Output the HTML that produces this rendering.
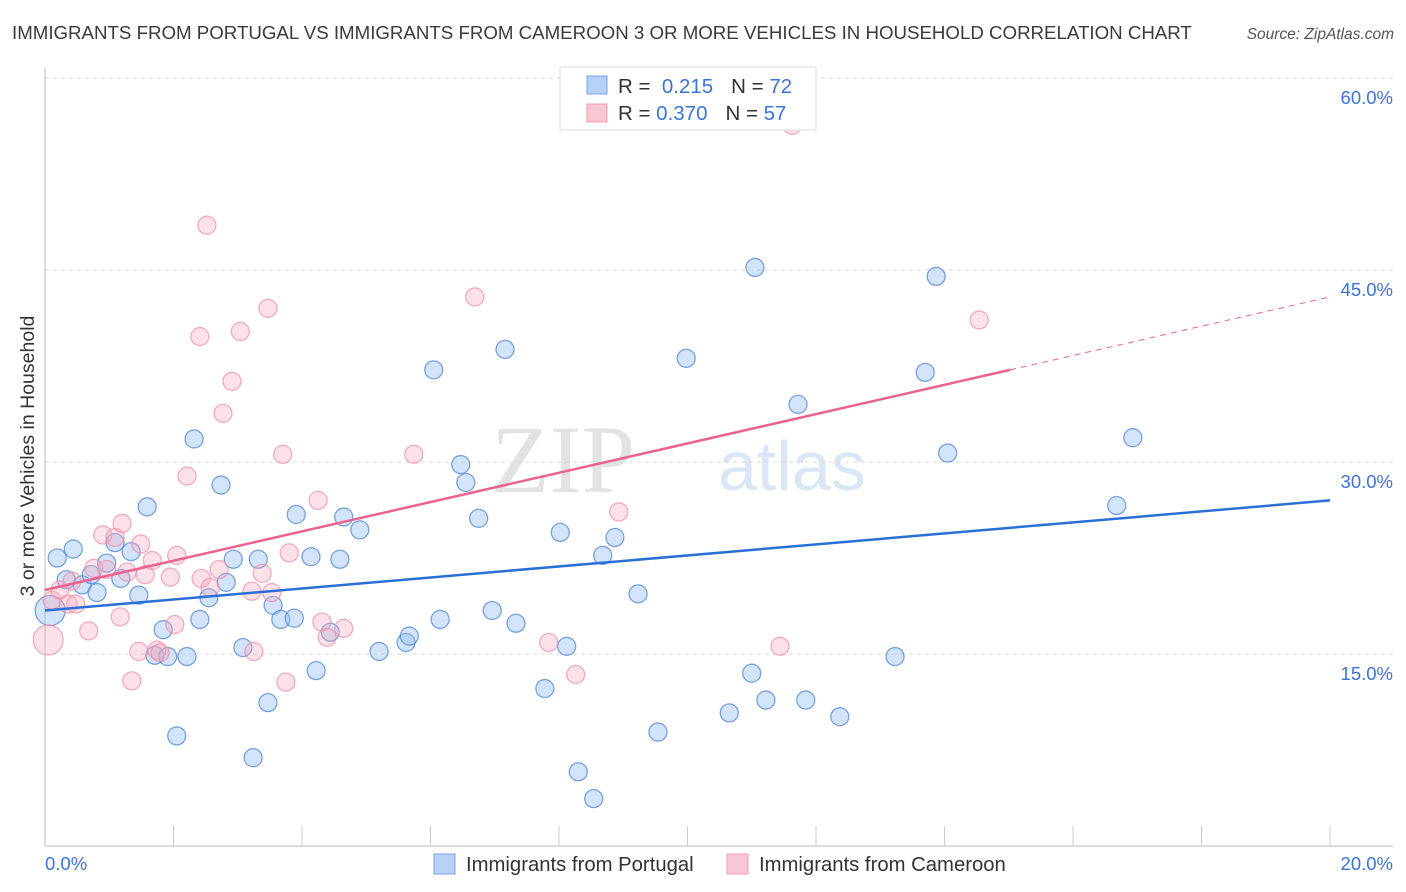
<!DOCTYPE html>
<html><head><meta charset="utf-8">
<style>
body{margin:0;background:#fff;font-family:"Liberation Sans",sans-serif;}
#wrap{position:relative;width:1406px;height:892px;overflow:hidden;}
</style></head><body>
<div id="wrap">
<svg id="svg" width="1406" height="892" xmlns="http://www.w3.org/2000/svg">
<text x="12" y="39" font-size="18.7" fill="#3a3a3a">IMMIGRANTS FROM PORTUGAL VS IMMIGRANTS FROM CAMEROON 3 OR MORE VEHICLES IN HOUSEHOLD CORRELATION CHART</text>
<text x="1394" y="39" font-size="15.5" fill="#555" font-style="italic" text-anchor="end">Source: ZipAtlas.com</text>
<text x="0" y="0" font-size="19.5" fill="#333" text-anchor="middle" transform="translate(34,456) rotate(-90)">3 or more Vehicles in Household</text>
<text x="635" y="492" font-size="96" fill="#e2e2e2" font-family="Liberation Serif,serif" text-anchor="end">ZIP</text>
<text x="718" y="490" font-size="70" fill="#dbe6f5">atlas</text>
<g id="grid"></g>
<g id="axes"></g>
<g id="pts"></g>
<g id="trend"></g>
<g>
<rect x="560" y="67" width="256" height="63" fill="#fff" stroke="#ddd"/>
<rect x="587" y="76" width="20" height="18" fill="#b7d0f5" stroke="#7aa3e3"/>
<rect x="587" y="104" width="20" height="18" fill="#f9c6d4" stroke="#ee9fb6"/>
<text x="618" y="93" font-size="20.5" fill="#333">R = <tspan fill="#3a74d6">&#160;0.215</tspan><tspan dx="18">N = </tspan><tspan fill="#3a74d6">72</tspan></text>
<text x="618" y="120" font-size="20.5" fill="#333">R = <tspan fill="#3a74d6">0.370</tspan><tspan dx="18">N = </tspan><tspan fill="#3a74d6">57</tspan></text>
</g>
<g>
<rect x="434" y="854" width="21" height="20" fill="#b7d0f5" stroke="#7aa3e3"/>
<text x="466" y="871" font-size="20.3" fill="#333">Immigrants from Portugal</text>
<rect x="727" y="854" width="21" height="20" fill="#f9c6d4" stroke="#ee9fb6"/>
<text x="759" y="871" font-size="20.3" fill="#333">Immigrants from Cameroon</text>
</g>
</svg>
</div>
<script>
const xTicks=[0,20];
const yTicks=[15,30,45,60];
const blueX=[0.19,0.44,0.33,0.58,0.81,0.72,0.96,1.18,1.34,1.09,1.59,1.46,1.84,1.71,1.91,2.05,2.21,2.32,2.41,2.55,2.74,2.82,2.93,3.08,3.24,3.32,3.47,3.55,3.67,3.88,3.91,4.14,4.22,4.44,4.59,4.65,4.90,5.20,5.62,5.67,6.05,6.15,6.47,6.55,6.75,6.96,7.16,7.33,7.78,8.02,8.12,8.30,8.54,8.68,8.87,9.23,9.54,9.98,10.65,11.00,11.05,11.22,11.72,11.84,12.37,13.23,13.70,13.87,14.05,16.68,16.93,0.08];
const blueY=[22.5,23.2,20.8,20.4,19.8,21.2,22.1,20.9,23.0,23.7,26.5,19.6,16.9,14.9,14.8,8.6,14.8,31.8,17.7,19.4,28.2,20.6,22.4,15.5,6.9,22.4,11.2,18.8,17.7,17.8,25.9,22.6,13.7,16.7,22.4,25.7,24.7,15.2,15.9,16.4,37.2,17.7,29.8,28.4,25.6,18.4,38.8,17.4,12.3,24.5,15.6,5.8,3.7,22.7,24.1,19.7,8.9,38.1,10.4,13.5,45.2,11.4,34.5,11.4,10.1,14.8,37.0,44.5,30.7,26.6,31.9,18.4];
const pinkX=[0.05,0.11,0.23,0.36,0.42,0.48,0.68,0.76,0.90,0.96,1.09,1.17,1.20,1.28,1.35,1.46,1.49,1.56,1.67,1.74,1.79,1.95,2.02,2.05,2.21,2.41,2.43,2.52,2.57,2.71,2.77,2.91,3.04,3.22,3.25,3.38,3.47,3.53,3.70,3.75,3.80,4.25,4.31,4.39,4.65,5.74,6.69,7.84,8.26,8.93,11.44,11.63,14.54];
const pinkY=[16.1,19.2,20.0,18.9,20.7,18.9,16.8,21.7,24.3,21.6,24.1,17.9,25.2,21.4,12.9,15.2,23.6,21.2,22.3,15.3,15.1,21.0,17.3,22.7,28.9,39.8,20.9,48.5,20.2,21.6,33.8,36.3,40.2,19.9,15.2,21.3,42.0,19.8,30.6,12.8,22.9,27.0,17.5,16.3,17.0,30.6,42.9,15.9,13.4,26.1,15.6,56.3,41.1];
const blueTrend=[18.4,27.0];
const pinkTrend=[20.0,42.9];
const pinkSolidEnd=15.02;

const NS="http://www.w3.org/2000/svg";
const X0=45,X1=1330,Y0=846,YPX=12.8;
function sx(v){return X0+(v/20)*(X1-X0);}
function sy(v){return Y0-v*YPX;}
function mk(tag,attrs,parent){const e=document.createElementNS(NS,tag);for(const k in attrs)e.setAttribute(k,attrs[k]);parent.appendChild(e);return e;}
const grid=document.getElementById('grid'),axes=document.getElementById('axes'),pts=document.getElementById('pts'),trend=document.getElementById('trend');
yTicks.forEach(t=>{
  const l=mk('line',{x1:45,x2:1393,y1:sy(t),y2:sy(t),stroke:'#d8d8d8','stroke-dasharray':'4,4'},grid);
  
  
  const tx=mk('text',{x:1393,y:sy(t)+26,'font-size':18.5,fill:'#3a74d6','text-anchor':'end'},grid);
  tx.textContent=t.toFixed(1)+'%';
  
  
});
let a=mk('line',{x1:45,x2:45,y1:68,y2:846,stroke:'#bbb'},axes);


a=mk('line',{x1:45,x2:1393,y1:846,y2:846,stroke:'#bbb'},axes);


for(let i=1;i<=10;i++){
  const t=mk('line',{x1:sx(i*2),x2:sx(i*2),y1:826,y2:846,stroke:'#ccc'},axes);
  
  
}
xTicks.forEach((t,i)=>{
  const tx=mk('text',{x:i==0?45:1393,y:870,'font-size':18.5,fill:'#3a74d6','text-anchor':i==0?'start':'end'},axes);
  tx.textContent=t.toFixed(1)+'%';
  
  
});
function dots(xs,ys,fill,stroke,name){
  xs.forEach((x,i)=>{
    const big=(x<0.1);
    const c=mk('circle',{cx:sx(x),cy:sy(ys[i]),r:big?15:9,fill:fill,stroke:stroke,'stroke-width':1.3},pts);
    
    
  });
}
dots(blueX,blueY,'rgba(150,188,240,0.42)','rgba(80,135,215,0.75)','point-portugal');
dots(pinkX,pinkY,'rgba(245,168,190,0.35)','rgba(238,140,168,0.7)','point-cameroon');
let l=mk('line',{x1:sx(0),y1:sy(blueTrend[0]),x2:sx(20),y2:sy(blueTrend[1]),stroke:'#2a6fd6','stroke-width':2.5},trend);


const pAt=v=>pinkTrend[0]+(pinkTrend[1]-pinkTrend[0])*v/20;
l=mk('line',{x1:sx(0),y1:sy(pinkTrend[0]),x2:sx(pinkSolidEnd),y2:sy(pAt(pinkSolidEnd)),stroke:'#e8648f','stroke-width':2.5},trend);


l=mk('line',{x1:sx(pinkSolidEnd),y1:sy(pAt(pinkSolidEnd)),x2:sx(20),y2:sy(pinkTrend[1]),stroke:'#e8648f','stroke-width':1,'stroke-dasharray':'6,5'},trend);


</script>
</body></html>
